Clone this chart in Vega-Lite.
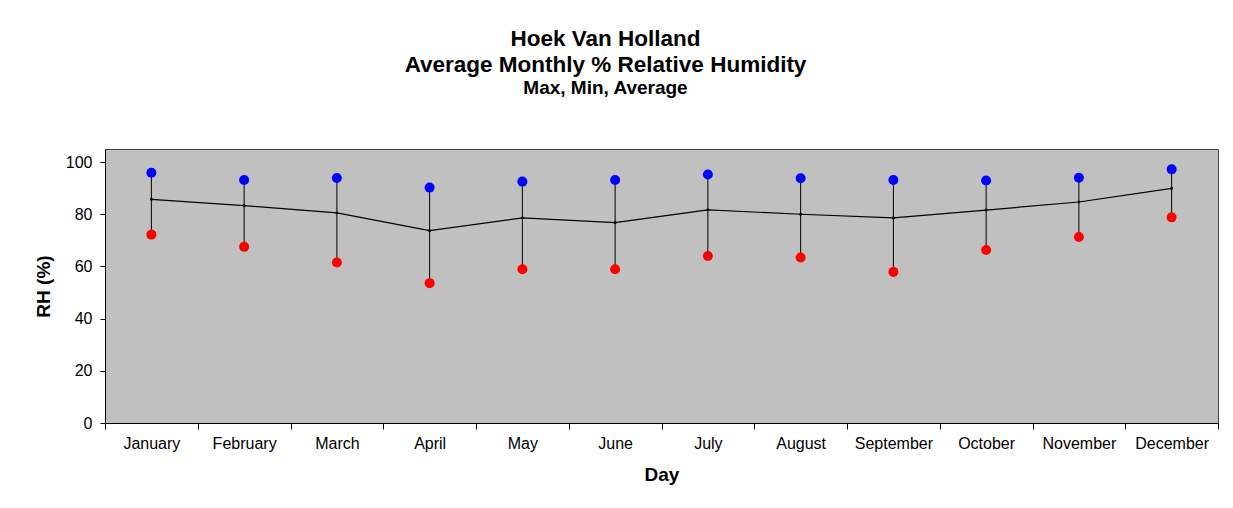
{
  "$schema": "https://vega.github.io/schema/vega-lite/v6.json",
  "width": 1113,
  "height": 274,
  "autosize": {"type": "none"},
  "padding": {"left": 105, "top": 149, "right": 15, "bottom": 85},
  "background": "white",
  "title": {
    "text": ["Hoek Van Holland", "Average Monthly % Relative Humidity"],
    "subtitle": "Max, Min, Average",
    "anchor": "middle",
    "dx": -56,
    "offset": 51,
    "font": "Liberation Sans",
    "fontSize": 22.5,
    "fontWeight": "bold",
    "lineHeight": 26,
    "color": "black",
    "subtitleFont": "Liberation Sans",
    "subtitleFontSize": 19,
    "subtitleFontWeight": "bold",
    "subtitleColor": "black",
    "subtitlePadding": 3
  },
  "data": {
    "values": [
      {"month": "January", "max": 95.9, "min": 72.2, "avg": 85.7},
      {"month": "February", "max": 93.1, "min": 67.5, "avg": 83.3},
      {"month": "March", "max": 93.9, "min": 61.5, "avg": 80.5},
      {"month": "April", "max": 90.2, "min": 53.6, "avg": 73.7},
      {"month": "May", "max": 92.5, "min": 58.9, "avg": 78.6},
      {"month": "June", "max": 93.1, "min": 58.9, "avg": 76.8},
      {"month": "July", "max": 95.2, "min": 64.0, "avg": 81.7},
      {"month": "August", "max": 93.8, "min": 63.4, "avg": 80.0},
      {"month": "September", "max": 93.1, "min": 57.9, "avg": 78.6},
      {"month": "October", "max": 92.9, "min": 66.3, "avg": 81.6},
      {"month": "November", "max": 94.0, "min": 71.3, "avg": 84.7},
      {"month": "December", "max": 97.2, "min": 78.8, "avg": 89.9}
    ]
  },
  "encoding": {
    "x": {
      "field": "month",
      "type": "nominal",
      "sort": null,
      "scale": {"paddingInner": 0, "paddingOuter": 0},
      "axis": {
        "title": "Day",
        "labelAngle": 0,
        "tickBand": "extent",
        "tickSize": 6,
        "tickColor": "black",
        "domainColor": "black",
        "labelFont": "Liberation Sans",
        "labelFontSize": 16,
        "labelColor": "black",
        "labelPadding": 6,
        "titleFont": "Liberation Sans",
        "titleFontSize": 19,
        "titleFontWeight": "bold",
        "titleColor": "black",
        "titlePadding": 14,
        "grid": false
      }
    }
  },
  "layer": [
    {
      "mark": {"type": "rule", "color": "black", "strokeWidth": 1},
      "encoding": {
        "y": {
          "field": "max",
          "type": "quantitative",
          "scale": {"domain": [0, 105], "nice": false},
          "axis": {
            "title": "RH (%)",
            "values": [0, 20, 40, 60, 80, 100],
            "grid": false,
            "tickSize": 5,
            "tickColor": "black",
            "domainColor": "black",
            "labelFont": "Liberation Sans",
            "labelFontSize": 16,
            "labelColor": "black",
            "labelPadding": 8,
            "titleFont": "Liberation Sans",
            "titleFontSize": 19,
            "titleFontWeight": "bold",
            "titleColor": "black",
            "titlePadding": 12
          }
        },
        "y2": {"field": "min"}
      }
    },
    {
      "mark": {"type": "line", "color": "black", "strokeWidth": 1.2},
      "encoding": {"y": {"field": "avg", "type": "quantitative"}}
    },
    {
      "mark": {"type": "point", "shape": "square", "filled": true, "color": "black", "size": 6, "opacity": 1},
      "encoding": {"y": {"field": "avg", "type": "quantitative"}}
    },
    {
      "mark": {"type": "point", "shape": "circle", "filled": true, "color": "#0000FF", "size": 100, "opacity": 1},
      "encoding": {"y": {"field": "max", "type": "quantitative"}}
    },
    {
      "mark": {"type": "point", "shape": "circle", "filled": true, "color": "#FF0000", "size": 100, "opacity": 1},
      "encoding": {"y": {"field": "min", "type": "quantitative"}}
    }
  ],
  "config": {
    "view": {"fill": "#C0C0C0", "stroke": "#444444", "strokeWidth": 1}
  }
}
